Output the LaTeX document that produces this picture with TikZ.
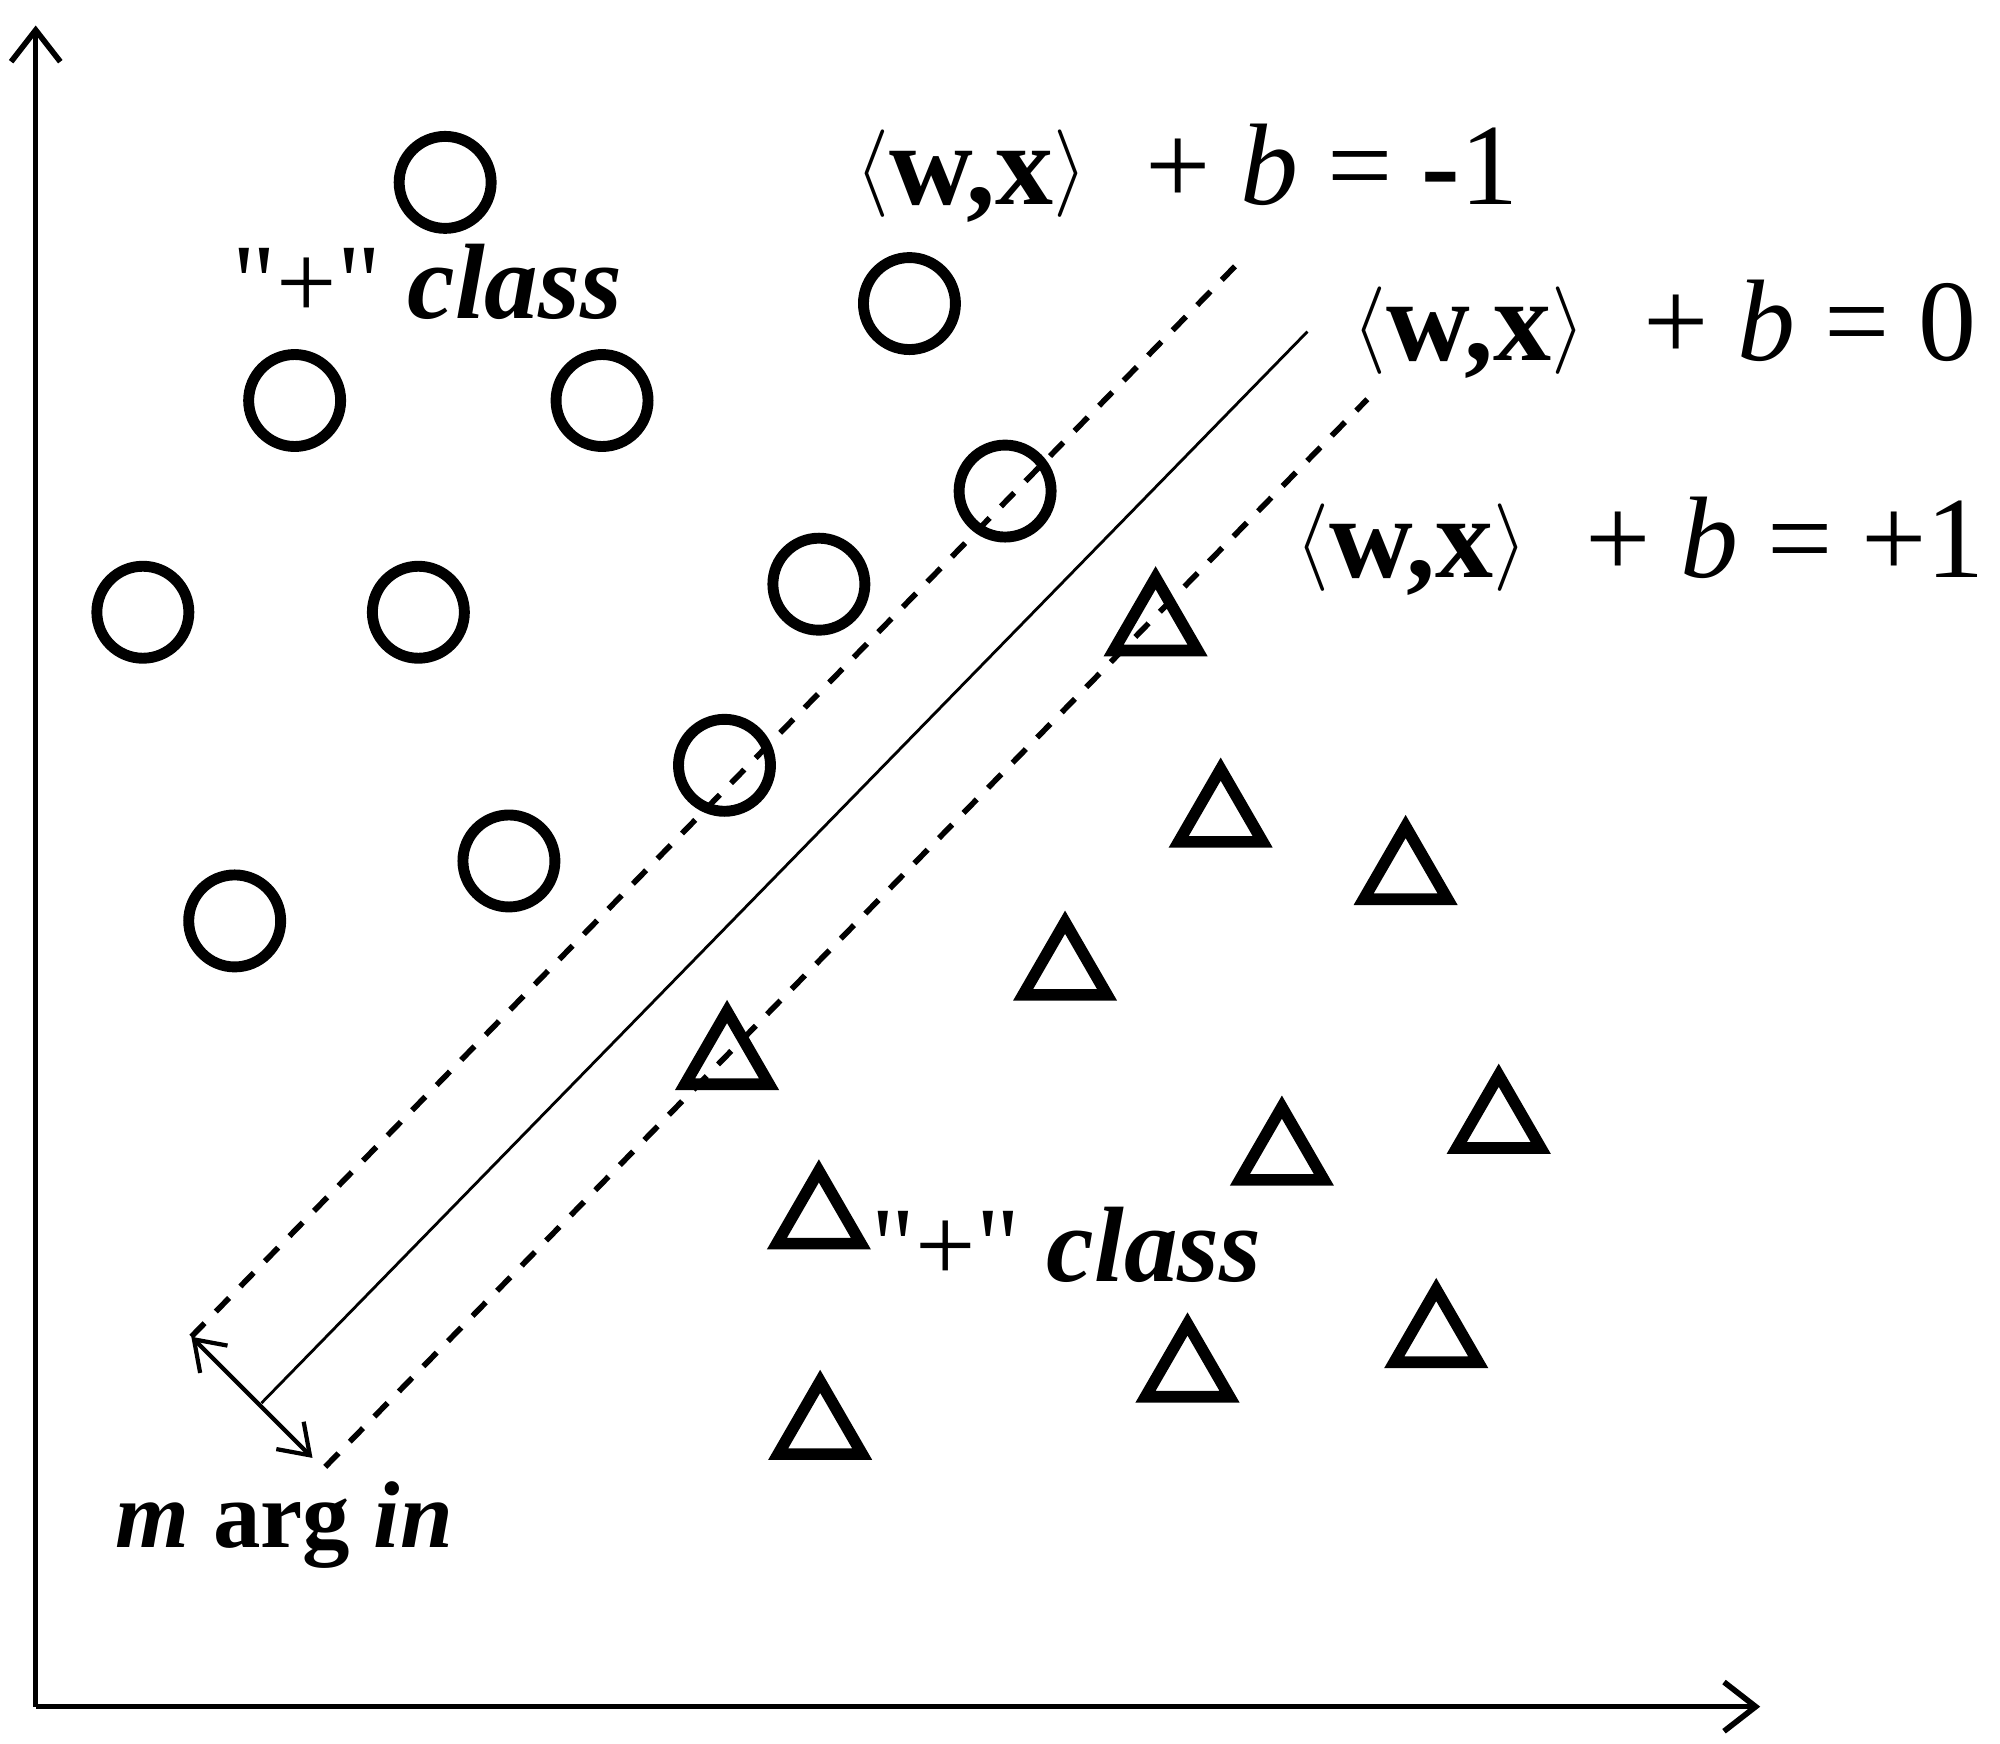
\documentclass[tikz,border=0pt]{standalone}
\usepackage{fontspec}
\setmainfont{Liberation Serif}
\newfontfamily\qfont{Liberation Serif}
\usetikzlibrary{shapes.geometric,arrows.meta}
\newcommand{\lang}{\raisebox{2.5pt}{\fontsize{34}{36}\selectfont$\langle$}}
\newcommand{\rang}{\raisebox{2.5pt}{\fontsize{34}{36}\selectfont$\rangle$}}
\begin{document}
\begin{tikzpicture}[x=0.012755cm,y=-0.012755cm,
  ptc/.style={draw,circle,line width=3.1pt,minimum size=0.92cm,inner sep=0},
  ptt/.style={draw,regular polygon,regular polygon sides=3,line width=3.3pt,minimum size=0.97cm,inner sep=0},
  axisline/.style={line width=1.4pt,-{Straight Barb[length=9pt,width=14pt,line width=1.6pt]}},
  marginline/.style={line width=1.6pt,dash pattern=on 5.4pt off 4.6pt},
  sepline/.style={line width=0.8pt},
  marrow/.style={line width=1.2pt,{Straight Barb[length=8pt,width=11pt]}-{Straight Barb[length=8pt,width=11pt]}},
  eqlab/.style={font=\fontsize{33}{36}\selectfont,inner sep=0,anchor=base west},
  lab/.style={font=\fontsize{30.5}{33}\selectfont,inner sep=0,anchor=base west}
]
\useasboundingbox (0,0) rectangle (1568,1367);
\fill[white] (0,0) rectangle (1568,1367);
% axes
\coordinate (o) at (28,1338);
\coordinate (ytop) at (28,20);
\coordinate (xend) at (1380,1338);
\draw[axisline] (o) -- (ytop);
\draw[axisline] (o) -- (xend);
% hyperplanes
\coordinate (m1a) at (150,1048); \coordinate (m1b) at (970,207);
\coordinate (h0a) at (205,1100); \coordinate (h0b) at (1025,260);
\coordinate (p1a) at (255,1150); \coordinate (p1b) at (1072,313);
\coordinate (arrB) at (245,1143);
\draw[marginline] (m1a) -- (m1b);
\draw[sepline] (h0a) -- (h0b);
\draw[marginline] (p1a) -- (p1b);
\draw[marrow] (m1a) -- (arrB);
% circles
\node[ptc] (c1) at (349,143) {};
\node[ptc] (c2) at (713,238) {};
\node[ptc] (c3) at (231,314) {};
\node[ptc] (c4) at (472,314) {};
\node[ptc] (c5) at (788,385) {};
\node[ptc] (c6) at (112,480) {};
\node[ptc] (c7) at (328,480) {};
\node[ptc] (c8) at (642,458) {};
\node[ptc] (c9) at (568,600) {};
\node[ptc] (c10) at (399,675) {};
\node[ptc] (c11) at (184,722) {};
% triangles
\node[ptt] (t1) at (906,491) {};
\node[ptt] (t2) at (957,641) {};
\node[ptt] (t3) at (1102,686) {};
\node[ptt] (t4) at (835,761) {};
\node[ptt] (t5) at (570,831) {};
\node[ptt] (t6) at (1175,881) {};
\node[ptt] (t7) at (1005,906) {};
\node[ptt] (t8) at (642,956) {};
\node[ptt] (t9) at (1126,1049) {};
\node[ptt] (t10) at (931,1076) {};
\node[ptt] (t11) at (643,1121) {};
% labels
\node[eqlab] (eqm) at (670,160) {\lang\textbf{w,x}\rang\ \ + \textit{b} = \textbf{-}1};
\node[eqlab] (eqz) at (1060,283) {\lang\textbf{w,x}\rang\ \ + \textit{b} = 0};
\node[eqlab] (eqp) at (1015,453) {\lang\textbf{w,x}\rang\ \ + \textit{b} = +1};
\node[lab] (cla) at (182,250) {{\qfont"+"} \textbf{\textit{class}}};
\node[lab] (clb) at (683,1005) {{\qfont"+"} \textbf{\textit{class}}};
\node[lab,font=\fontsize{27}{30}\selectfont] (mrg) at (90,1213) {\textbf{\textit{m}} \textbf{arg} \textbf{\textit{in}}};
\end{tikzpicture}
\end{document}
